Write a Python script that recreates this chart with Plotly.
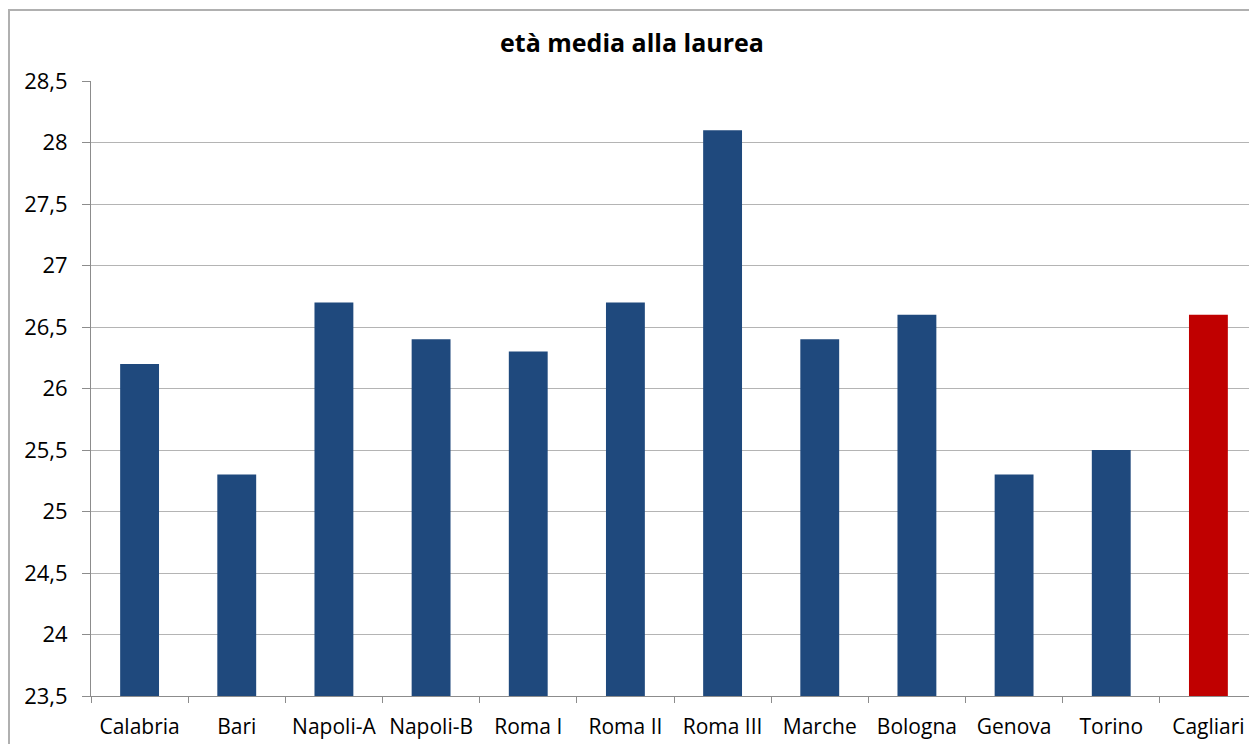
import plotly.graph_objects as go

CATEGORIES = ["Calabria", "Bari", "Napoli-A", "Napoli-B", "Roma I", "Roma II",
              "Roma III", "Marche", "Bologna", "Genova", "Torino", "Cagliari"]
ETA_MEDIA = [26.2, 25.3, 26.7, 26.4, 26.3, 26.7, 28.1, 26.4, 26.6, 25.3, 25.5, 26.6]
HIGHLIGHT = "Cagliari"
Y_MIN = 23.5
Y_MAX = 28.5

BLUE = "#1F497D"
RED = "#C00000"
colors = [RED if c == HIGHLIGHT else BLUE for c in CATEGORIES]

# the page body adds an 8px margin, so the figure is sized to leave room for it
W, H = 1249, 736
ML, MR, MT, MB = 83, 0, 73, 48
plot_w = W - ML - MR
plot_h = H - MT - MB

fig = go.Figure(go.Bar(
    x=CATEGORIES,
    y=[v - Y_MIN for v in ETA_MEDIA],  # heights above the axis floor
    base=Y_MIN,
    customdata=ETA_MEDIA,
    hovertemplate="%{x}: %{customdata}<extra></extra>",
    marker=dict(color=colors, line=dict(width=0)),
))

fig.update_layout(
    width=W, height=H,
    margin=dict(l=ML, r=MR, t=MT, b=MB, autoexpand=False),
    paper_bgcolor="white", plot_bgcolor="white",
    separators=",.",
    bargap=0.6,
    showlegend=False,
    font=dict(family="Open Sans, sans-serif", color="black"),
    title=dict(text="<b>età media alla laurea</b>", x=(632 - 8 - ML) / plot_w,
               xref="paper", xanchor="center",
               y=1 - 35 / H, yanchor="middle", font=dict(size=25)),
)
fig.update_xaxes(
    type="category", automargin=False, tickangle=0,
    showline=True, linecolor="#8C8C8C", linewidth=1,
    ticks="outside", tickson="boundaries", ticklen=6, tickcolor="#8C8C8C",
    tickfont=dict(size=21), ticklabelstandoff=12, showgrid=False,
)
fig.update_yaxes(
    range=[Y_MIN, Y_MAX], dtick=0.5, tick0=Y_MIN, automargin=False,
    showline=True, linecolor="#8C8C8C", linewidth=1,
    ticks="outside", ticklen=8, tickcolor="#8C8C8C",
    showgrid=True, gridcolor="#B4B4B4", gridwidth=1,
    tickfont=dict(size=22), ticklabelstandoff=10, zeroline=False,
)
# outer chart frame, like the spreadsheet chart border
fig.add_shape(type="rect", xref="paper", yref="paper",
              x0=(1 - ML) / plot_w, x1=1.02, y0=-0.2, y1=(plot_h + MT - 2) / plot_h,
              line=dict(color="#B0B0B0", width=2), layer="below")

fig.write_html("out.html")
